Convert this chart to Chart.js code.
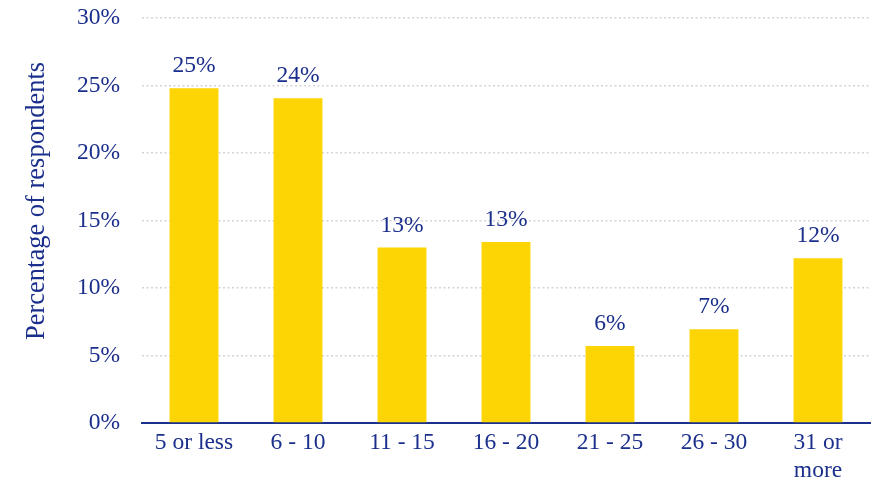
<!doctype html>
<html lang="en">
<head>
	<meta charset="utf-8">
	<title>Respondents</title>
	<script src="https://cdn.jsdelivr.net/npm/chart.js@4/dist/chart.umd.min.js"></script>
	<style>
		html, body { margin: 0; padding: 0; background: #fff; }
		#wrap { width: 882px; height: 481px; }
	</style>
</head>
<body>
	<div id="wrap"><canvas id="myChart" width="882" height="481"></canvas></div>

	<script>
		var categories = ['5 or less', '6 - 10', '11 - 15', '16 - 20', '21 - 25', '26 - 30', ['31 or', 'more']];
		var shares = [24.8, 24.05, 13.0, 13.4, 5.7, 6.95, 12.2];
		var yTicks = [0, 5, 10, 15, 20, 25, 30];
		var yTitle = 'Percentage of respondents';

		var navy = '#1b2f8c';
		var serif = "'Liberation Serif', 'Times New Roman', serif";

		// value labels above each bar, plus the rotated y title
		var barLabels = {
			id: 'barLabels',
			afterDatasetsDraw: function(chart) {
				var ctx = chart.ctx;
				var meta = chart.getDatasetMeta(0);
				ctx.save();
				ctx.font = '23.5px ' + serif;
				ctx.fillStyle = navy;
				ctx.textAlign = 'center';
				ctx.textBaseline = 'alphabetic';
				meta.data.forEach(function(bar, i) {
					ctx.fillText(Math.round(shares[i]) + '%', bar.x, bar.y - 16);
				});

				ctx.font = '26.5px ' + serif;
				ctx.textBaseline = 'middle';
				ctx.translate(37, 201);
				ctx.rotate(-Math.PI / 2);
				ctx.fillText(yTitle, 0, 0);
				ctx.restore();
			}
		};

		var ctx = document.getElementById('myChart');
		var myChart = new Chart(ctx, {
			type: 'bar',
			data: {
				labels: categories,
				datasets: [{
					data: shares,
					backgroundColor: '#fdd505',
					borderWidth: 0,
					categoryPercentage: 1,
					barPercentage: 0.47
				}]
			},
			options: {
				responsive: false,
				animation: false,
				layout: { padding: { top: 18, right: 12, left: 0, bottom: 0 } },
				plugins: {
					legend: { display: false },
					tooltip: { enabled: false }
				},
				scales: {
					x: {
						afterFit: function(scale) {
							scale.height = 58;
							scale.paddingLeft = 0;
							scale.paddingRight = 0;
						},
						grid: { display: false, drawTicks: false },
						border: { color: navy, width: 2 },
						ticks: {
							color: navy,
							font: { family: serif, size: 23.5, lineHeight: 1.2 },
							padding: 6,
							maxRotation: 0,
							autoSkip: false
						}
					},
					y: {
						min: 0,
						max: 30,
						afterBuildTicks: function(scale) {
							scale.ticks = yTicks.map(function(v) { return { value: v }; });
						},
						afterFit: function(scale) {
							scale.width = 142;
							scale.paddingTop = 0;
							scale.paddingBottom = 0;
						},
						grid: {
							color: '#d4d4d4',
							lineWidth: 1.5,
							drawTicks: false
						},
						border: { display: false, dash: [2, 2.5] },
						ticks: {
							color: navy,
							font: { family: serif, size: 23.5 },
							padding: 22,
							callback: function(v) { return v + '%'; }
						}
					}
				}
			},
			plugins: [barLabels]
		});
	</script>
</body>
</html>
